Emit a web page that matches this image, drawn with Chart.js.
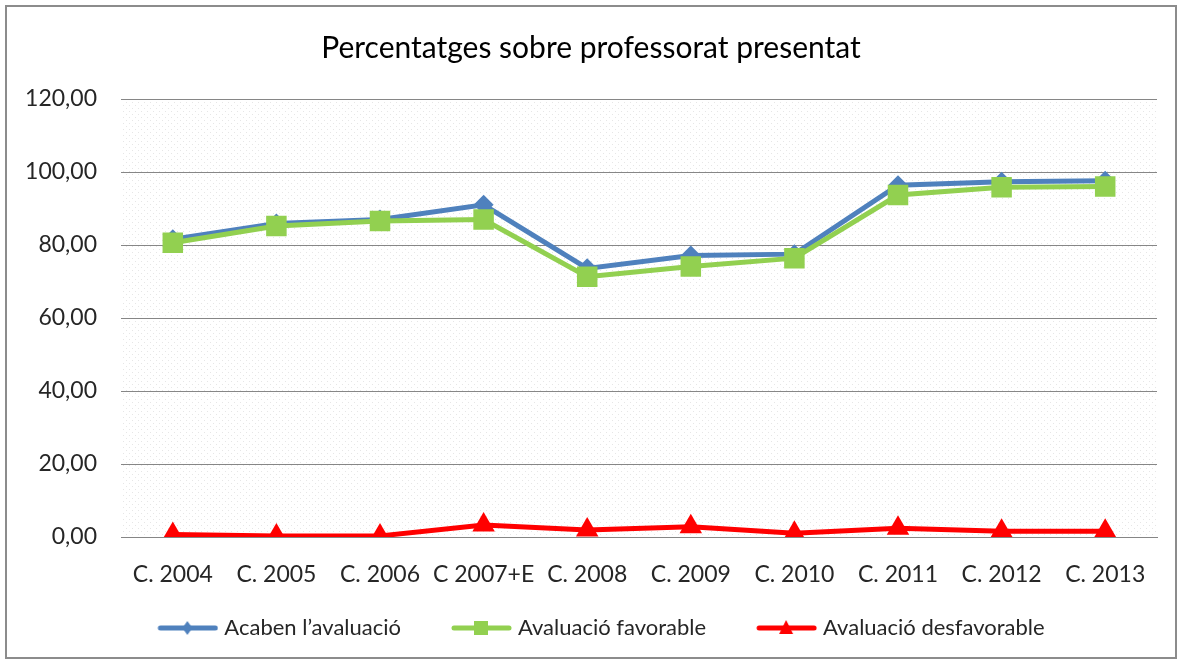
<!DOCTYPE html>
<html>
<head>
<meta charset="utf-8">
<script src="https://cdn.jsdelivr.net/npm/chart.js@4.4.0/dist/chart.umd.min.js"></script>
<style>
  html, body { margin: 0; padding: 0; background: #fff; }
  #wrap { position: relative; width: 1182px; height: 662px; }
</style>
</head>
<body>
<div id="wrap"><canvas id="grafic" width="1182" height="662"></canvas></div>
<script>
// Dades llegides del gràfic original
const cursos = ['C. 2004', 'C. 2005', 'C. 2006', 'C 2007+E', 'C. 2008', 'C. 2009', 'C. 2010', 'C. 2011', 'C. 2012', 'C. 2013'];
const acabenAvaluacio = [81.6, 85.9, 87.0, 91.0, 73.6, 77.1, 77.5, 96.4, 97.3, 97.6];
const avaluacioFavorable = [80.6, 85.2, 86.6, 87.0, 71.3, 74.1, 76.4, 93.7, 95.8, 96.0];
const avaluacioDesfavorable = [0.7, 0.3, 0.3, 3.3, 1.9, 2.8, 1.0, 2.4, 1.6, 1.6];
const titol = 'Percentatges sobre professorat presentat';
const FONT = 'Lato, "Liberation Sans", sans-serif';

// ===============================================
// Fons puntejat de l'àrea de dibuix i vora del gràfic
// ===============================================
function crearPatro(ctx) {
    const c = document.createElement('canvas');
    c.width = 6; c.height = 6;
    const p = c.getContext('2d');
    p.fillStyle = '#ffffff';
    p.fillRect(0, 0, 6, 6);
    p.fillStyle = '#e6e6e6';
    p.fillRect(0, 0, 1, 1);
    p.fillRect(3, 3, 1, 1);
    return ctx.createPattern(c, 'repeat');
}

const fonsPlugin = {
    id: 'fons',
    beforeDraw(chart) {
        const { ctx, chartArea } = chart;
        ctx.save();
        ctx.fillStyle = '#ffffff';
        ctx.fillRect(0, 0, chart.width, chart.height);
        ctx.fillStyle = crearPatro(ctx);
        ctx.fillRect(chartArea.left, chartArea.top, chartArea.right - chartArea.left, chartArea.bottom - chartArea.top);
        ctx.strokeStyle = '#8c8c8c';
        ctx.lineWidth = 2;
        ctx.strokeRect(6, 6, 1170, 652);
        ctx.restore();
    }
};

// Icona de llegenda: línia amb el marcador al mig.
// El llenç és més ample per l'esquerra (transparent) per separar els elements.
function iconaLlegenda(color, forma) {
    const c = document.createElement('canvas');
    c.width = 86; c.height = 22;
    const g = c.getContext('2d');
    const x0 = 26, cx = x0 + 29, cy = 11;
    g.strokeStyle = color;
    g.fillStyle = color;
    g.lineWidth = 5;
    g.lineCap = 'round';
    g.beginPath();
    g.moveTo(x0 + 2, cy); g.lineTo(x0 + 57, cy);
    g.stroke();
    g.beginPath();
    if (forma === 'diamant') {
        g.moveTo(cx, cy - 7); g.lineTo(cx + 5, cy); g.lineTo(cx, cy + 7); g.lineTo(cx - 5, cy);
    } else if (forma === 'quadrat') {
        g.rect(cx - 7, cy - 7, 14, 14);
    } else {
        g.moveTo(cx, cy - 8); g.lineTo(cx + 7, cy + 6); g.lineTo(cx - 7, cy + 6);
    }
    g.closePath();
    g.fill();
    return c;
}

const blau = '#4f81bd';
const verd = '#92d050';
const vermell = '#ff0000';
const icones = [iconaLlegenda(blau, 'diamant'), iconaLlegenda(verd, 'quadrat'), iconaLlegenda(vermell, 'triangle')];

const ctx = document.getElementById('grafic').getContext('2d');
new Chart(ctx, {
    type: 'line',
    data: {
        labels: cursos,
        datasets: [{
            label: 'Acaben l\u2019avaluació',
            data: acabenAvaluacio,
            borderColor: blau,
            backgroundColor: blau,
            borderWidth: 5,
            pointStyle: 'rectRot',
            pointRadius: 10,
            pointBorderWidth: 0,
            order: 2
        }, {
            label: 'Avaluació favorable',
            data: avaluacioFavorable,
            borderColor: verd,
            backgroundColor: verd,
            borderWidth: 5,
            pointStyle: 'rect',
            pointRadius: 14.5,
            pointBorderWidth: 0,
            order: 1
        }, {
            label: 'Avaluació desfavorable',
            data: avaluacioDesfavorable,
            borderColor: vermell,
            backgroundColor: vermell,
            borderWidth: 5,
            pointStyle: 'triangle',
            pointRadius: 13,
            pointBorderWidth: 0,
            order: 0
        }]
    },
    options: {
        responsive: false,
        animation: false,
        layout: { padding: { left: 0, right: 0, top: 0, bottom: 13 } },
        scales: {
            x: {
                offset: true,
                grid: { display: false },
                border: { display: true, color: '#868686', width: 1 },
                ticks: { color: '#262626', padding: 16, font: { family: FONT, size: 23 }, maxRotation: 0, autoSkip: false },
                afterFit(scale) { scale.height = 50; }
            },
            y: {
                min: 0,
                max: 120,
                grid: { color: '#868686', lineWidth: 1, drawTicks: false },
                border: { display: false },
                ticks: {
                    stepSize: 20,
                    padding: 24,
                    color: '#262626',
                    font: { family: FONT, size: 23 },
                    callback: v => v.toFixed(2).replace('.', ',')
                },
                afterFit(scale) { scale.width = 121; }
            },
            dreta: {
                position: 'right',
                display: true,
                grid: { display: false },
                border: { display: false },
                ticks: { display: false },
                afterFit(scale) { scale.width = 25; }
            }
        },
        plugins: {
            title: {
                display: true,
                text: titol,
                color: '#000000',
                font: { family: FONT, size: 30, weight: 'normal' },
                padding: { top: 30, bottom: 33 }
            },
            legend: {
                position: 'bottom',
                labels: {
                    usePointStyle: true,
                    pointStyleWidth: 76,
                    padding: 30,
                    color: '#262626',
                    font: { family: FONT, size: 22 },
                    generateLabels(chart) {
                        return chart.data.datasets.map((ds, i) => ({
                            text: ds.label,
                            pointStyle: icones[i],
                            fillStyle: ds.borderColor,
                            strokeStyle: ds.borderColor,
                            lineWidth: 0,
                            fontColor: '#262626',
                            hidden: false,
                            datasetIndex: i
                        }));
                    }
                }
            },
            tooltip: { enabled: false }
        }
    },
    plugins: [fonsPlugin]
});
</script>
</body>
</html>
